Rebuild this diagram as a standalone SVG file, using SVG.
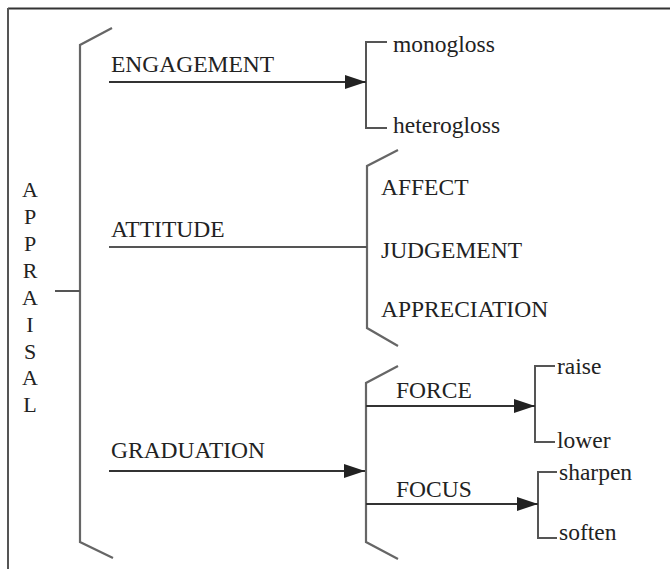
<svg xmlns="http://www.w3.org/2000/svg" width="670" height="569" viewBox="0 0 670 569">
<style>
  .t { font-family: 'Liberation Serif', 'Times New Roman', serif; font-size: 23.5px; fill: #222; }
  .v { font-size: 22px; text-anchor: middle; }
  .br { fill: none; stroke: #666; stroke-width: 2.2; }
  .ln { fill: none; stroke: #555; stroke-width: 2; }
  .ar { fill: none; stroke: #333; stroke-width: 2; }
</style>
<defs>
  <marker id="arrow" viewBox="0 0 21 14" refX="21" refY="7" markerWidth="21" markerHeight="14" markerUnits="userSpaceOnUse" orient="auto">
    <path d="M0,0 L21,7 L0,14 z" fill="#222"/>
  </marker>
</defs>
<rect width="670" height="569" fill="#fff"/>
<g id="frame">
  <line x1="8" y1="8.5" x2="670" y2="8.5" stroke="#333" stroke-width="2"/>
  <line x1="8" y1="8" x2="8" y2="569" stroke="#555" stroke-width="2"/>
</g>
<g id="appraisal">
  <text class="t v" x="30" y="197">A</text>
  <text class="t v" x="30" y="224">P</text>
  <text class="t v" x="30" y="251">P</text>
  <text class="t v" x="30" y="278">R</text>
  <text class="t v" x="30" y="304.5">A</text>
  <text class="t v" x="30" y="331.5">I</text>
  <text class="t v" x="30" y="358.5">S</text>
  <text class="t v" x="30" y="385">A</text>
  <text class="t v" x="30" y="412">L</text>
</g>
<g id="engagement"><text class="t" x="111" y="72">ENGAGEMENT</text></g>
<g id="attitude"><text class="t" x="111" y="237">ATTITUDE</text></g>
<g id="graduation"><text class="t" x="111" y="458">GRADUATION</text></g>
<g id="engagement-options">
  <polyline class="ln" points="387,42 366,42 366,128 387,128"/>
  <text class="t" x="393" y="52">monogloss</text>
  <text class="t" x="393" y="133">heterogloss</text>
</g>
<g id="attitude-options">
  <polyline class="br" points="398,150 367,166 367,328 398,346"/>
  <text class="t" x="381" y="195">AFFECT</text>
  <text class="t" x="381" y="258">JUDGEMENT</text>
  <text class="t" x="381" y="317">APPRECIATION</text>
</g>
<g id="graduation-options">
  <polyline class="br" points="398,366 366,383 366,542 398,559"/>
  <text class="t" x="396" y="398">FORCE</text>
  <text class="t" x="396" y="497">FOCUS</text>
</g>
<g id="force-options">
  <polyline class="ln" points="555,366 535,366 535,442 555,442"/>
  <text class="t" x="557" y="374">raise</text>
  <text class="t" x="557" y="448">lower</text>
</g>
<g id="focus-options">
  <polyline class="ln" points="557,472 538,472 538,538 557,538"/>
  <text class="t" x="559" y="480">sharpen</text>
  <text class="t" x="559" y="540">soften</text>
</g>
<g id="bracket-main">
  <polyline class="br" points="112,28 80,45 80,542 113,558"/>
</g>
<g id="connectors">
  <line class="ln" x1="55" y1="291" x2="80" y2="291"/>
  <line class="ar" x1="109" y1="82" x2="366" y2="82" marker-end="url(#arrow)"/>
  <line class="ln" x1="109" y1="247" x2="367" y2="247"/>
  <line class="ar" x1="109" y1="471" x2="365" y2="471" marker-end="url(#arrow)"/>
  <line class="ar" x1="366" y1="406" x2="535" y2="406" marker-end="url(#arrow)"/>
  <line class="ar" x1="366" y1="504" x2="538" y2="504" marker-end="url(#arrow)"/>
</g>
</svg>
